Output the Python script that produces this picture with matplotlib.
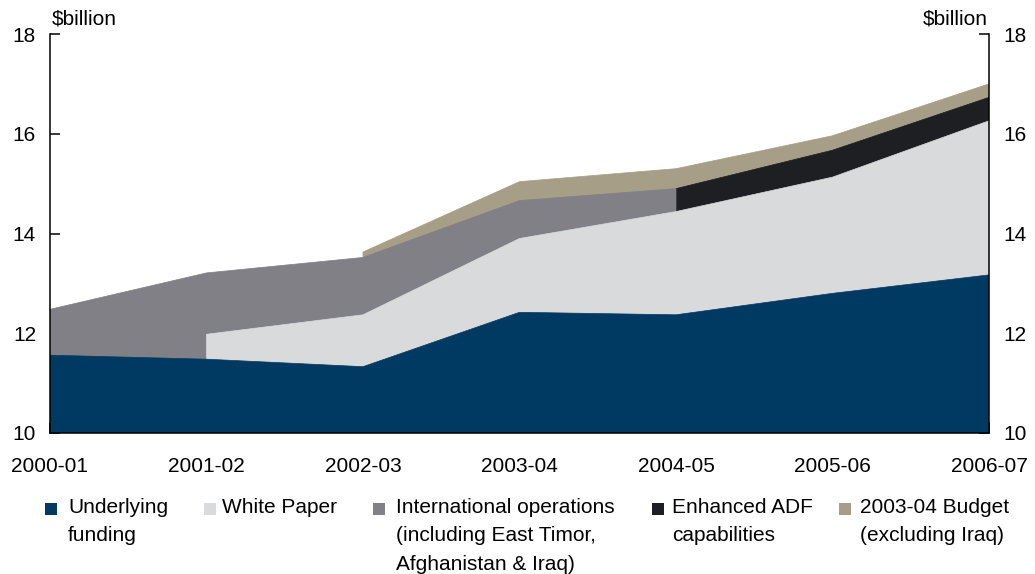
import numpy as np
import matplotlib
matplotlib.use("Agg")
import matplotlib.pyplot as plt
from matplotlib.patches import Rectangle

plt.rcParams['font.family'] = ['Liberation Sans', 'DejaVu Sans']

years = ['2000-01', '2001-02', '2002-03', '2003-04', '2004-05', '2005-06', '2006-07']

# $billion, nan where a component is not part of the stack
underlying = [11.56, 11.48, 11.33, 12.42, 12.37, 12.80, 13.17]
white_paper = [np.nan, 0.50, 1.04, 1.48, 2.07, 2.33, 3.09]
intl_ops = [0.92, 1.23, 1.15, 0.76, 0.46, np.nan, np.nan]
enhanced_adf = [np.nan, np.nan, np.nan, np.nan, 0.0, 0.54, 0.47]
budget_0304 = [np.nan, np.nan, 0.11, 0.38, 0.40, 0.29, 0.27]

series = [underlying, white_paper, intl_ops, enhanced_adf, budget_0304]
colors = ['#003a63', '#d9dadc', '#808086', '#1e1f23', '#a79e87']
labels = ['Underlying\nfunding', 'White Paper',
          'International operations\n(including East Timor,\nAfghanistan & Iraq)',
          'Enhanced ADF\ncapabilities', '2003-04 Budget\n(excluding Iraq)']

x = np.arange(len(years))
vals = np.array(series, dtype=float)
cum = np.cumsum(np.nan_to_num(vals), axis=0)

fig = plt.figure(figsize=(10.35, 5.74), dpi=100)
ax = fig.add_axes([50 / 1035, 1 - 433 / 574, 939 / 1035, 399 / 574])

# each component is an area up to its running total, drawn top-down so
# the lower ones sit over it; it only spans the years where it exists
for k in range(len(series) - 1, -1, -1):
    have = ~np.isnan(vals[k])
    ax.fill_between(x[have], 0, cum[k][have], color=colors[k], lw=0.5,
                    ec=colors[k], zorder=2)

ax.set_xlim(0, len(x) - 1)
ax.set_ylim(10, 18)
ax.set_xticks(x)
ax.set_xticklabels(years)
ax.set_yticks([10, 12, 14, 16, 18])

ax.spines['top'].set_visible(False)
for sp in ['left', 'right', 'bottom']:
    ax.spines[sp].set_linewidth(1.1)
    ax.spines[sp].set_zorder(5)

ax.tick_params(axis='y', direction='in', length=7, width=1.1, labelsize=15,
               right=True, labelright=True, pad=10)
ax.tick_params(axis='x', direction='in', length=7, width=1.1, labelsize=15, pad=17)

fig.text(52 / 1035, 1 - 19 / 574, '$billion', fontsize=15, va='center', ha='left')
fig.text(988 / 1035, 1 - 19 / 574, '$billion', fontsize=15, va='center', ha='right')

# legend drawn by hand: coloured squares with wrapped text
sq_x = [45, 204, 373, 652, 839]
txt_x = [68, 222, 396, 672, 860]
sq = 12
for k in range(len(labels)):
    fig.patches.append(Rectangle((sq_x[k] / 1035, 1 - (509 + sq / 2) / 574),
                                 sq / 1035, sq / 574, transform=fig.transFigure,
                                 color=colors[k], lw=0))
    fig.text(txt_x[k] / 1035, 1 - 498 / 574, labels[k], fontsize=15,
             va='top', ha='left', linespacing=1.62)

fig.savefig('out.png', dpi=100)
